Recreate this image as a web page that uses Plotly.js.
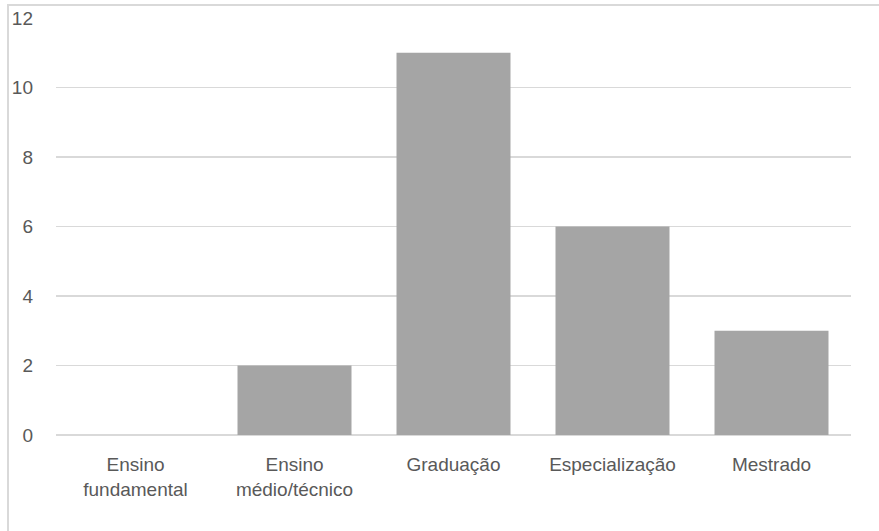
<!DOCTYPE html>
<html>
<head>
<meta charset="utf-8">
<script src="https://cdn.plot.ly/plotly-3.0.1.min.js"></script>
<style>
  html, body { margin: 0; padding: 0; background: #ffffff; overflow: hidden; }
  #frame {
    position: absolute; left: 7px; top: 4px; width: 900px; height: 560px;
    border-left: 2px solid #d9d9d9; border-top: 2px solid #d9d9d9;
  }
  #chart { position: absolute; left: 0; top: 0; width: 879px; height: 531px; }
</style>
</head>
<body>
<div id="frame"></div>
<div id="chart"></div>
<script>
// Escolaridade: número de respostas por nível de formação
const categories = [
  "Ensino<br>fundamental",
  "Ensino<br>médio/técnico",
  "Graduação",
  "Especialização",
  "Mestrado"
];
const values = [0, 2, 11, 6, 3];
const yTicks = [0, 2, 4, 6, 8, 10, 12];

const labelFont = { family: "Liberation Sans Narrow, Arial Narrow, sans-serif", size: 19, color: "#595959" };

const trace = {
  type: "bar",
  x: categories,
  y: values,
  marker: { color: "#a5a5a5" },
  hoverinfo: "x+y"
};

const layout = {
  width: 879,
  height: 531,
  margin: { l: 56, r: 28, t: 18, b: 96 },
  paper_bgcolor: "rgba(0,0,0,0)",
  plot_bgcolor: "rgba(0,0,0,0)",
  bargap: 0.283,
  showlegend: false,
  xaxis: {
    type: "category",
    tickfont: labelFont,
    ticks: "",
    showgrid: false,
    showline: false,
    zeroline: false,
    ticklabelstandoff: 16
  },
  yaxis: {
    range: [0, 12],
    tickvals: yTicks,
    ticktext: yTicks.map(String),
    tickfont: labelFont,
    showgrid: true,
    gridcolor: "#d9d9d9",
    gridwidth: 1.5,
    zeroline: true,
    zerolinecolor: "#d9d9d9",
    zerolinewidth: 1.5,
    showline: false,
    ticks: "",
    ticklabelstandoff: 22
  }
};

Plotly.newPlot("chart", [trace], layout, { displayModeBar: false, staticPlot: true });
</script>
</body>
</html>
